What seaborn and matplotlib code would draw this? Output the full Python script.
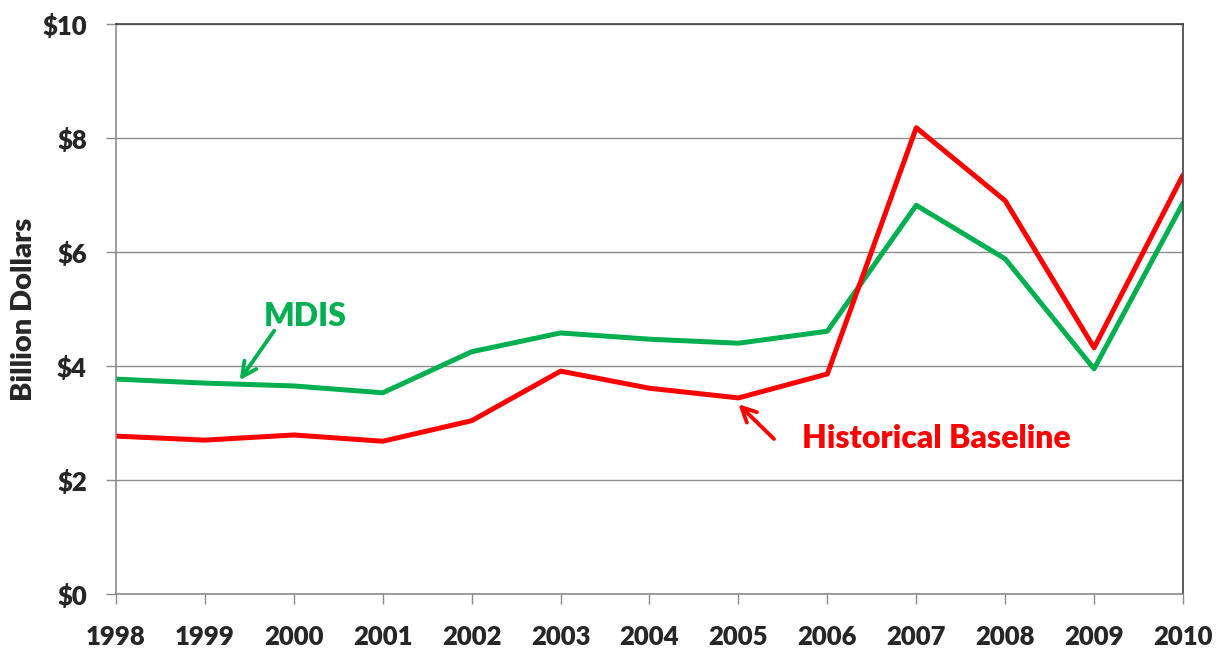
import pandas as pd
import matplotlib
matplotlib.use("Agg")
import matplotlib.pyplot as plt
import seaborn as sns

# data
years = [1998, 1999, 2000, 2001, 2002, 2003, 2004, 2005, 2006, 2007, 2008, 2009, 2010]
mdis = [3.77, 3.70, 3.65, 3.53, 4.25, 4.58, 4.47, 4.40, 4.61, 6.82, 5.88, 3.95, 6.86]
baseline = [2.77, 2.70, 2.79, 2.68, 3.04, 3.91, 3.61, 3.44, 3.86, 8.18, 6.90, 4.32, 7.35]
y_ticks = [0, 2, 4, 6, 8, 10]
y_labels = ["$0", "$2", "$4", "$6", "$8", "$10"]

df = pd.DataFrame({
    "Year": years * 2,
    "Value": mdis + baseline,
    "Series": ["MDIS"] * len(years) + ["Historical Baseline"] * len(years),
})

sns.set_theme(style="white")
plt.rcParams["font.family"] = ["Lato", "DejaVu Sans"]

green = "#00B050"
red = "#FF0000"
wt = 800

fig = plt.figure(figsize=(12.25, 6.5), dpi=100)
ax = fig.add_axes([116 / 1225, 56 / 650, (1183 - 116) / 1225, (594 - 24) / 650])

sns.lineplot(data=df, x="Year", y="Value", hue="Series",
             palette={"MDIS": green, "Historical Baseline": red},
             hue_order=["MDIS", "Historical Baseline"],
             linewidth=3.6, legend=False, ax=ax)

ax.set_xlim(1998, 2010)
ax.set_ylim(0, 10)
ax.set_xticks(years)
ax.set_xticklabels([str(y) for y in years], fontsize=18.5, fontweight=wt)
ax.set_yticks(y_ticks)
ax.set_yticklabels(y_labels, fontsize=18.5, fontweight=wt)
ax.set_xlabel("")
ax.set_ylabel("Billion Dollars", fontsize=21, fontweight=wt, labelpad=4)

ax.grid(axis="y", color="#8c8c8c", linewidth=1)
ax.set_axisbelow(True)
ax.tick_params(axis="both", which="both", length=7, width=1, color="#8c8c8c",
               direction="out", left=True, bottom=True)
ax.tick_params(axis="y", pad=14)
ax.tick_params(axis="x", pad=15)
for side in ["left", "bottom"]:
    ax.spines[side].set_color("#8c8c8c")
    ax.spines[side].set_linewidth(1.2)
for side in ["top", "right"]:
    ax.spines[side].set_color("#404040")
    ax.spines[side].set_linewidth(1.2)

# labels with arrows
ax.text(2000.13, 4.86, "MDIS", color=green, fontsize=23, fontweight=wt,
        ha="center", va="center")
ax.annotate("", xy=(1999.39, 3.75), xytext=(1999.78, 4.62),
            arrowprops=dict(arrowstyle="->", color=green, lw=2.8, mutation_scale=26,
                            shrinkA=0, shrinkB=0))

ax.text(2007.23, 2.72, "Historical Baseline", color=red, fontsize=23, fontweight=wt,
        ha="center", va="center")
ax.annotate("", xy=(2005.0, 3.33), xytext=(2005.4, 2.72),
            arrowprops=dict(arrowstyle="->", color=red, lw=2.8, mutation_scale=26,
                            shrinkA=0, shrinkB=0))

fig.savefig("out.png", dpi=100)
